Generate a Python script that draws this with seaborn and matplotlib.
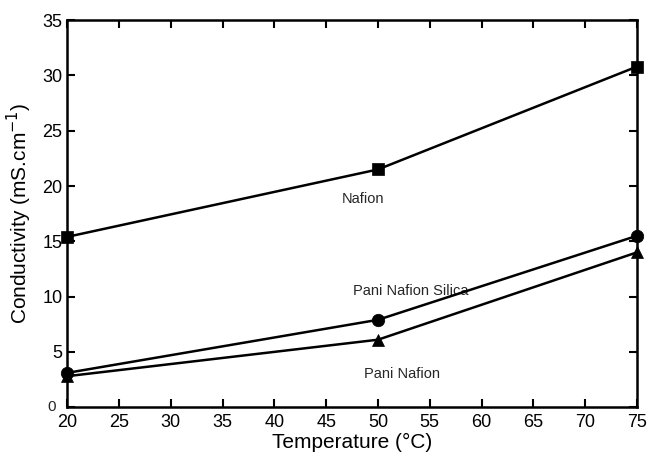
import matplotlib

matplotlib.use("Agg")

import matplotlib.pyplot as plt
import pandas as pd
import seaborn as sns


temperature = [20, 50, 75]

nafion = [15.4, 21.5, 30.8]
pani_nafion_silica = [3.1, 7.9, 15.5]
pani_nafion = [2.8, 6.1, 14.0]

series_names = ["Nafion", "Pani Nafion Silica", "Pani Nafion"]
series_markers = ["s", "o", "^"]

x_ticks = list(range(20, 80, 5))
y_ticks = list(range(0, 40, 5))


df = pd.DataFrame({
    "temperature": temperature * 3,
    "conductivity": nafion + pani_nafion_silica + pani_nafion,
    "series": [name for name in series_names for _ in temperature],
})


sns.set_style("ticks")
plt.rcParams["font.family"] = ["Liberation Sans", "DejaVu Sans"]

fig = plt.figure(figsize=(6.52, 4.58), dpi=100)
ax = fig.add_axes([0.103, 0.111, 0.874, 0.845])

sns.lineplot(
    data=df,
    x="temperature",
    y="conductivity",
    hue="series",
    style="series",
    markers=dict(zip(series_names, series_markers)),
    dashes=False,
    palette=["black"] * 3,
    markersize=9,
    markeredgecolor="black",
    markeredgewidth=0.5,
    linewidth=1.8,
    legend=False,
    clip_on=False,
    zorder=5,
    ax=ax
)

ax.set_xlim(20, 75)
ax.set_ylim(0, 35)
ax.set_xticks(x_ticks)
ax.set_yticks(y_ticks)
ax.set_yticklabels([""] + [str(v) for v in y_ticks[1:]])

ax.tick_params(
    direction="in",
    top=True,
    right=True,
    length=6,
    width=1.5,
    labelsize=13,
    colors="black"
)
ax.tick_params(axis="x", pad=5)

# the zero label sits lower and smaller than the others
ax.text(18.9, 0.0, "0", fontsize=11, ha="right", va="center")

for spine in ax.spines.values():
    spine.set_linewidth(1.8)
    spine.set_color("black")

ax.set_xlabel("Temperature (°C)", fontsize=15, labelpad=1, color="black")
ax.set_ylabel("Conductivity (mS.cm$^{-1}$)", fontsize=15, labelpad=6, color="black")

ax.text(48.6, 18.8, "Nafion", fontsize=10.5, ha="center", va="center")
ax.text(53.2, 10.5, "Pani Nafion Silica", fontsize=10.5, ha="center", va="center")
ax.text(52.3, 3.0, "Pani Nafion", fontsize=10.5, ha="center", va="center")

plt.savefig("out.png", dpi=100)
plt.close()
